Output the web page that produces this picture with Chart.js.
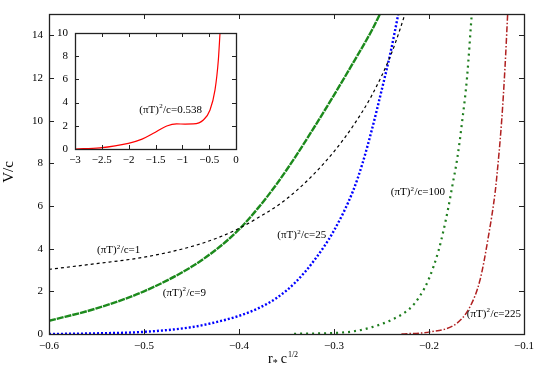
<!DOCTYPE html>
<html><head><meta charset="utf-8">
<script src="https://cdn.jsdelivr.net/npm/chart.js@4/dist/chart.umd.min.js"></script>
<style>
html,body{margin:0;padding:0;background:#fff;}
#wrap{position:relative;width:545px;height:382px;overflow:hidden;}
#main{position:absolute;left:0;top:0;}
#inset{position:absolute;left:30px;top:25px;}
</style>
</head><body>
<div id="wrap"><canvas id="main" width="545" height="382"></canvas><canvas id="inset" width="215" height="145"></canvas></div>
<script>
// ---- data ----
const xTicks = [-0.6, -0.5, -0.4, -0.3, -0.2, -0.1];
const yTicks = [0, 2, 4, 6, 8, 10, 12, 14];
const insetXTicks = [-3, -2.5, -2, -1.5, -1, -0.5, 0];
const insetYTicks = [0, 2, 4, 6, 8, 10];

const x1 = [-0.6, -0.55, -0.5, -0.45, -0.42, -0.4, -0.38, -0.36, -0.34, -0.32, -0.30, -0.28, -0.26, -0.24, -0.23, -0.2253];
const v1 = [3.03, 3.3, 3.6, 4.1, 4.55, 4.95, 5.45, 6.0, 6.7, 7.55, 8.55, 9.75, 11.2, 13.1, 14.35, 15.0];

const x9 = [-0.6, -0.55, -0.5, -0.45, -0.42, -0.4, -0.38, -0.36, -0.34, -0.32, -0.30, -0.28, -0.26, -0.2516];
const v9 = [0.62, 1.2, 2.0, 3.15, 4.1, 4.9, 5.9, 7.05, 8.35, 9.75, 11.2, 12.7, 14.25, 15.0];

const x25 = [-0.6, -0.55, -0.5, -0.45, -0.42, -0.4, -0.38, -0.36, -0.34, -0.32, -0.30, -0.28, -0.27, -0.26, -0.25, -0.24, -0.2323];
const v25 = [0.0, 0.03, 0.1, 0.32, 0.6, 0.85, 1.2, 1.7, 2.45, 3.5, 4.85, 6.7, 8.0, 9.6, 11.4, 13.3, 15.0];

const x100 = [-0.342, -0.3, -0.28, -0.26, -0.24, -0.22, -0.21, -0.2, -0.19, -0.185, -0.18, -0.175, -0.17, -0.165, -0.16, -0.155];
const v100 = [0.01, 0.05, 0.12, 0.32, 0.65, 1.2, 1.75, 2.6, 3.9, 4.8, 5.85, 7.05, 8.3, 10.0, 12.0, 15.0];

const x225 = [-0.229, -0.199, -0.1708, -0.1568, -0.1463, -0.1375, -0.1305, -0.1288, -0.1235, -0.12, -0.1172];
const v225 = [0.0, 0.1, 0.5, 1.28, 2.53, 4.56, 6.6, 7.3, 10.0, 12.5, 15.0];

const xIn = [-3, -2.534, -2.006, -1.75, -1.54, -1.29, -1.106, -0.95, -0.795, -0.608, -0.484, -0.391, -0.329, -0.298];
const vIn = [0, 0.1, 0.49, 0.85, 1.35, 1.98, 2.16, 2.15, 2.16, 2.5, 3.36, 5.09, 7.67, 10];

const seriesLabels = ['1', '9', '25', '100', '225'];
const insetLabel = '0.538';
// annotation anchors (data coordinates)
const labelX = [-0.5495, -0.4803, -0.3597, -0.2403, -0.1603];
const labelY = [3.79, 1.79, 4.49, 6.51, 0.80];
const insetLabelX = -1.802, insetLabelY = 3.13;

// ---- helpers ----
const FONT = '"Liberation Serif","Times New Roman",serif';
const pts = (xs, vs) => xs.map((x, i) => ({x: x, y: vs[i]}));
const fmt = v => {
  let s;
  if (Math.abs(v) < 1e-9) s = '0';
  else if (Math.abs(v - Math.round(v)) < 1e-9) s = String(Math.round(v));
  else s = (+v.toFixed(1)).toString();
  return s.replace('-', '\u2212');
};

function drawSupLabel(ctx, x, y, size, value) {
  ctx.save();
  ctx.fillStyle = '#000';
  ctx.textBaseline = 'alphabetic';
  ctx.textAlign = 'left';
  ctx.font = size + 'px ' + FONT;
  ctx.fillText('(\u03c0T)', x, y);
  x += ctx.measureText('(\u03c0T)').width;
  ctx.font = Math.round(size * 0.68) + 'px ' + FONT;
  ctx.fillText('2', x + 0.3, y - size * 0.42);
  x += ctx.measureText('2').width + 0.6;
  ctx.font = size + 'px ' + FONT;
  ctx.fillText('/c=' + value, x, y);
  ctx.restore();
}

function frameAndTicks(chart, len) {
  const ctx = chart.ctx, a = chart.chartArea;
  const xs = chart.scales.x, ys = chart.scales.y;
  ctx.save();
  ctx.strokeStyle = '#222';
  ctx.lineWidth = 1;
  ctx.beginPath();
  xs.ticks.forEach(t => {
    const p = Math.round(xs.getPixelForValue(t.value)) + 0.5;
    ctx.moveTo(p, a.bottom); ctx.lineTo(p, a.bottom - len);
    ctx.moveTo(p, a.top); ctx.lineTo(p, a.top + len);
  });
  ys.ticks.forEach(t => {
    const p = Math.round(ys.getPixelForValue(t.value)) + 0.5;
    ctx.moveTo(a.left, p); ctx.lineTo(a.left + len, p);
    ctx.moveTo(a.right, p); ctx.lineTo(a.right - len, p);
  });
  ctx.stroke();
  ctx.lineWidth = 1.3;
  ctx.strokeRect(Math.round(a.left) + 0.5, Math.round(a.top) + 0.5, Math.round(a.right - a.left), Math.round(a.bottom - a.top));
  ctx.restore();
}

const mainPlugin = {
  id: 'mainDeco',
  afterDraw(chart) {
    frameAndTicks(chart, 5);
    const ctx = chart.ctx, xs = chart.scales.x, ys = chart.scales.y;
    seriesLabels.forEach((s, i) => {
      drawSupLabel(ctx, xs.getPixelForValue(labelX[i]), ys.getPixelForValue(labelY[i]), 11, s);
    });
    // axis titles
    ctx.save();
    ctx.fillStyle = '#000';
    ctx.font = '15px ' + FONT;
    ctx.textAlign = 'center';
    ctx.textBaseline = 'middle';
    ctx.translate(9, 172);
    ctx.rotate(-Math.PI / 2);
    ctx.fillText('V/c', 0, 0);
    ctx.restore();
    ctx.save();
    ctx.fillStyle = '#000';
    ctx.textBaseline = 'alphabetic';
    let x = 268, y = 363;
    ctx.font = '14px ' + FONT;
    ctx.fillText('r', x, y); x += ctx.measureText('r').width;
    ctx.font = '10px ' + FONT;
    ctx.fillText('*', x, y + 3); x += ctx.measureText('*').width + 3;
    ctx.font = '14px ' + FONT;
    ctx.fillText('c', x, y); x += ctx.measureText('c').width + 1;
    ctx.font = '8px ' + FONT;
    ctx.fillText('1/2', x, y - 6);
    ctx.restore();
  }
};

const insetPlugin = {
  id: 'insetDeco',
  afterDraw(chart) {
    frameAndTicks(chart, 4);
    drawSupLabel(chart.ctx, chart.scales.x.getPixelForValue(insetLabelX), chart.scales.y.getPixelForValue(insetLabelY), 11, insetLabel);
  }
};

const tickFont = {family: FONT, size: 11};

function lineDs(data, color, width, dash) {
  return {data: data, borderColor: color, borderWidth: width, borderDash: dash, pointRadius: 0,
          fill: false, cubicInterpolationMode: 'monotone', showLine: true, borderCapStyle: 'butt'};
}

new Chart(document.getElementById('main'), {
  type: 'scatter',
  data: {datasets: [
    lineDs(pts(x1, v1), '#000000', 1.2, [3, 3]),
    lineDs(pts(x9, v9), '#1c8a1c', 2.4, [7, 1]),
    lineDs(pts(x25, v25), '#0000ff', 2.4, [2, 2]),
    lineDs(pts(x100, v100), '#1e7d1e', 2.2, [2, 4]),
    lineDs(pts(x225, v225), '#b02020', 1.5, [6, 2, 1.5, 2])
  ]},
  options: {
    responsive: false, animation: false, devicePixelRatio: 1,
    layout: {padding: {top: 14, right: 21, left: 0, bottom: 0}},
    plugins: {legend: {display: false}, tooltip: {enabled: false}},
    scales: {
      x: {type: 'linear', min: -0.6, max: -0.1,
          grid: {display: false, drawTicks: false}, border: {display: false},
          afterBuildTicks: s => { s.ticks = xTicks.map(v => ({value: v})); },
          afterFit: s => { s.height = 48; s.paddingLeft = 0; s.paddingRight = 0; },
          ticks: {font: tickFont, color: '#000', padding: 6, maxRotation: 0, autoSkip: false, callback: v => fmt(v)}},
      y: {type: 'linear', min: 0, max: 15,
          grid: {display: false, drawTicks: false}, border: {display: false},
          afterBuildTicks: s => { s.ticks = yTicks.map(v => ({value: v})); },
          afterFit: s => { s.width = 49; s.paddingTop = 0; s.paddingBottom = 0; },
          ticks: {font: tickFont, color: '#000', padding: 6, autoSkip: false, callback: v => fmt(v)}}
    }
  },
  plugins: [mainPlugin]
});

new Chart(document.getElementById('inset'), {
  type: 'scatter',
  data: {datasets: [lineDs(pts(xIn, vIn), '#ff0000', 1.2, [])]},
  options: {
    responsive: false, animation: false, devicePixelRatio: 1,
    layout: {padding: {top: 8, right: 9, left: 0, bottom: 0}},
    plugins: {legend: {display: false}, tooltip: {enabled: false}},
    scales: {
      x: {type: 'linear', min: -3, max: 0,
          grid: {display: false, drawTicks: false}, border: {display: false},
          afterBuildTicks: s => { s.ticks = insetXTicks.map(v => ({value: v})); },
          afterFit: s => { s.height = 21; s.paddingLeft = 0; s.paddingRight = 0; },
          ticks: {font: tickFont, color: '#000', padding: 5, maxRotation: 0, autoSkip: false, callback: v => fmt(v)}},
      y: {type: 'linear', min: 0, max: 10,
          grid: {display: false, drawTicks: false}, border: {display: false},
          afterBuildTicks: s => { s.ticks = insetYTicks.map(v => ({value: v})); },
          afterFit: s => { s.width = 45; s.paddingTop = 0; s.paddingBottom = 0; },
          ticks: {font: tickFont, color: '#000', padding: 7, autoSkip: false, callback: v => fmt(v)}}
    }
  },
  plugins: [insetPlugin]
});
</script>
</body></html>
